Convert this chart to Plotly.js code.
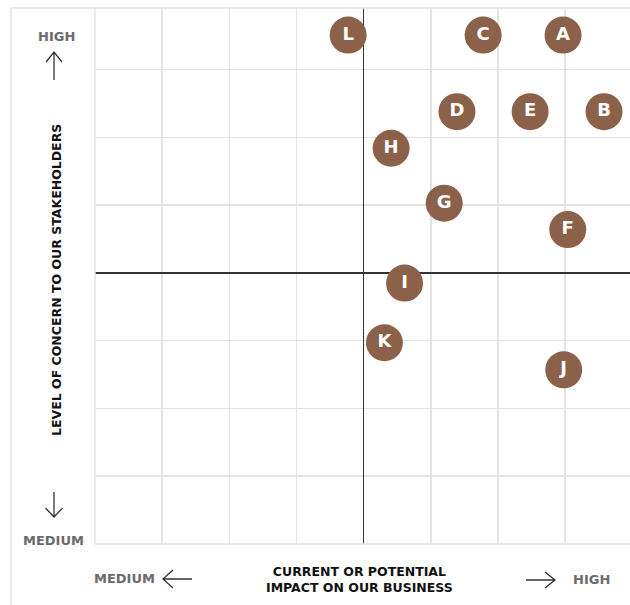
<!DOCTYPE html>
<html>
<head>
<meta charset="utf-8">
<script src="https://cdn.plot.ly/plotly-3.0.1.min.js"></script>
<style>html,body{margin:0;padding:0;background:#fff;}#chart{width:630px;height:605px;}</style>
</head>
<body>
<div id="chart"></div>
<script>
const labels = ["A","B","C","D","E","F","G","H","I","J","K","L"];
const impact = [2.97, 3.58, 1.78, 1.39, 2.48, 3.04, 1.20, 0.41, 0.61, 2.98, 0.31, -0.23];
const concern = [3.51, 2.38, 3.51, 2.38, 2.38, 0.64, 1.03, 1.84, -0.15, -1.43, -1.03, 3.51];
const yTitle = "LEVEL OF CONCERN TO OUR STAKEHOLDERS";
const xTitle = "CURRENT OR POTENTIAL<br>IMPACT ON OUR BUSINESS";
const highLabel = "HIGH";
const mediumLabel = "MEDIUM";

const W = 630, H = 605, L = 95, R = 0, T = 8, B = 61;
const pw = W - L - R, ph = H - T - B;
const px = x => (x - L) / pw;
const py = y => (H - B - y) / ph;
const P = (x, y) => px(x).toFixed(4) + "," + py(y).toFixed(4);

const gridColor = "#e3e3e3";
const arrowColor = "#333";
function arrow(pts) {
  return {type: "path", xref: "paper", yref: "paper", layer: "above",
    path: pts, line: {color: arrowColor, width: 1.3}};
}
function frameLine(x0, y0, x1, y1) {
  return {type: "line", xref: "paper", yref: "paper", layer: "above",
    x0: px(x0), y0: py(y0), x1: px(x1), y1: py(y1), line: {color: gridColor, width: 1.5}};
}
const shapes = [
  frameLine(11, 8, 630, 8),
  frameLine(11, 8, 11, 605),
  frameLine(95, 8, 95, 544),
  frameLine(95, 544, 630, 544),
  arrow("M" + P(54, 80) + " L" + P(54, 52) + " M" + P(46, 62) + " L" + P(54, 52) + " L" + P(62, 62)),
  arrow("M" + P(54, 492) + " L" + P(54, 517) + " M" + P(45.5, 508) + " L" + P(54, 517) + " L" + P(62.5, 508)),
  arrow("M" + P(192, 579) + " L" + P(163, 579) + " M" + P(173, 570) + " L" + P(163, 579) + " L" + P(173, 588)),
  arrow("M" + P(526, 580) + " L" + P(555, 580) + " M" + P(545, 572) + " L" + P(555, 580) + " L" + P(545, 588))
];

const FAM = "DejaVu Sans, sans-serif";
const fontGray = {family: FAM, size: 13, color: "#6b6b6b", weight: 700};
const fontBlack = {family: FAM, size: 12.5, color: "#111", weight: 700};
function ann(text, x, y, font, extra) {
  return Object.assign({text: text, xref: "paper", yref: "paper", x: px(x), y: py(y),
    xanchor: "center", yanchor: "middle", showarrow: false, font: font}, extra || {});
}
const annotations = [
  ann(highLabel, 56, 36, fontGray),
  ann(mediumLabel, 53, 540, fontGray),
  ann(mediumLabel, 124.5, 578, fontGray),
  ann(highLabel, 591, 579, fontGray),
  ann(xTitle, 359, 579, fontBlack),
  ann(yTitle, 56, 280, fontBlack, {textangle: -90})
];

const trace = {
  type: "scatter", mode: "markers+text",
  x: impact, y: concern, text: labels,
  textposition: "middle center",
  textfont: {family: FAM, size: 18, color: "#ffffff", weight: 700},
  marker: {size: 37, color: "#8c6149", line: {width: 0}},
  hoverinfo: "none", cliponaxis: false
};

const layout = {
  width: W, height: H,
  margin: {l: L, r: R, t: T, b: B, pad: 0},
  paper_bgcolor: "#ffffff", plot_bgcolor: "#ffffff",
  showlegend: false, hovermode: false,
  xaxis: {range: [-4, 3.967], tick0: 0, dtick: 1, showticklabels: false, ticks: "",
    showgrid: true, gridcolor: gridColor, gridwidth: 1.5,
    zeroline: true, zerolinecolor: "#333", zerolinewidth: 1.3, showline: false, fixedrange: true},
  yaxis: {range: [-4, 3.91], tick0: 0, dtick: 1, showticklabels: false, ticks: "",
    showgrid: true, gridcolor: gridColor, gridwidth: 1.5,
    zeroline: true, zerolinecolor: "#333", zerolinewidth: 1.3, showline: false, fixedrange: true},
  shapes: shapes,
  annotations: annotations
};

Plotly.newPlot("chart", [trace], layout, {displayModeBar: false, staticPlot: true});
</script>
</body>
</html>
